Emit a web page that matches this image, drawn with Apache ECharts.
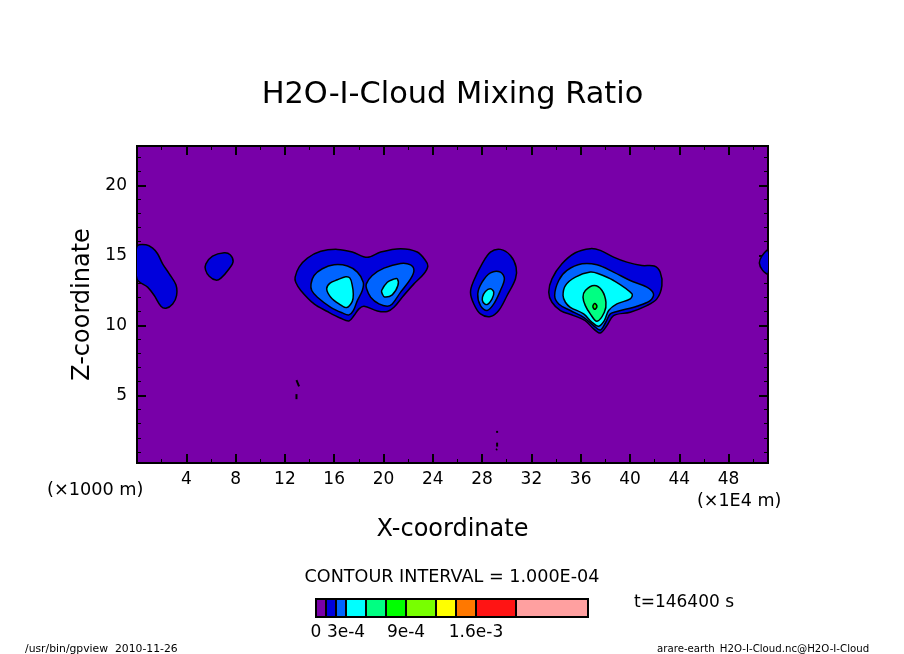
<!DOCTYPE html>
<html><head><meta charset="utf-8">
<style>html,body{margin:0;padding:0;background:#fff}#c{width:904px;height:654px}</style>
<script src="https://cdn.jsdelivr.net/npm/echarts@6/dist/echarts.min.js"></script>
</head><body><div id="c"></div>
<script>
const FONT = 'DejaVu Sans';
const titleText = 'H2O-I-Cloud Mixing Ratio';
const xName = 'X-coordinate';
const zName = 'Z-coordinate';
const xMajor = [4,8,12,16,20,24,28,32,36,40,44,48];
const xMinor = [2,6,10,14,18,22,26,30,34,38,42,46,50];
const zMajor = [5,10,15,20];
const zMinor = [1,2,3,4,6,7,8,9,11,12,13,14,16,17,18,19,21,22];
const bandColors = ['#7800a8','#0000dc','#0064ff','#00ffff','#00ff82','#00ff00','#78ff00','#ffff00','#ff7800','#ff1414','#ffa0a0'];
const levels = [0,1e-4,2e-4,3e-4,5e-4,7e-4,9e-4,12e-4,14e-4,16e-4,20e-4,27.2e-4];
const levelTicks = [0,3e-4,9e-4,16e-4];
const levelTickLabels = ['0','3e-4','9e-4','1.6e-3'];

// contour outlines: [x (1E4 m), z (1000 m)]
const blobA1 = [[0,15.64],[.73,15.76],[1.27,15.52],[1.67,15.12],[2.08,14.4],[2.62,13.69],[3.16,12.9],[3.21,12.14],[2.89,11.54],[2.35,11.23],[1.94,11.38],[1.4,12.14],[.86,12.74],[0,13.33]];
const blobB1 = [[5.59,14.4],[6.13,14.95],[7.08,15.19],[7.56,15.05],[7.8,14.57],[7.48,14.05],[6.81,13.38],[6.4,13.24],[5.86,13.52],[5.56,13.97]];
const blobC1 = [[12.83,13.45],[13.15,14.17],[13.83,14.81],[14.91,15.29],[16.26,15.43],[17.47,15.24],[18.69,14.86],[19.77,15.24],[21.39,15.48],[22.74,15.24],[23.41,14.64],[23.6,14.24],[23.28,13.69],[22.47,12.97],[21.52,12.02],[20.85,11.3],[20.31,11],[19.5,11.04],[18.42,11.38],[18.01,11.19],[17.61,10.71],[17.2,10.33],[16.53,10.52],[15.45,11],[14.37,11.54],[13.29,12.5],[12.88,13.09]];
const blobC2a = [[14.12,12.97],[14.37,13.57],[15.04,14.05],[15.99,14.33],[17.07,14.24],[17.88,13.81],[18.36,13.09],[18.28,12.5],[17.88,11.78],[17.55,11.07],[17.2,10.76],[16.66,10.9],[15.72,11.3],[14.64,12.02],[14.18,12.5]];
const blobC2b = [[18.61,12.97],[19.09,13.57],[20.04,14.09],[21.39,14.43],[22.2,14.33],[22.47,13.93],[22.2,13.33],[21.39,12.38],[20.71,11.54],[20.31,11.38],[19.63,11.54],[18.96,12.02],[18.63,12.62]];
const blobC3a = [[15.39,12.62],[15.66,13.02],[16.26,13.26],[16.93,13.47],[17.28,13.38],[17.47,12.85],[17.55,12.26],[17.47,11.72],[17.01,11.28],[16.39,11.54],[15.72,12.02]];
const blobC3b = [[19.85,12.5],[20.31,13.09],[20.8,13.3],[21.12,13.33],[21.17,12.85],[20.71,12.19],[20.09,12.04],[19.9,12.26]];
const blobD1 = [[27.06,12.38],[27.33,13.21],[28,14.4],[28.68,15.24],[29.49,15.43],[30.3,15],[30.76,14.17],[30.71,13.33],[30.03,12.14],[29.35,11.07],[28.68,10.64],[27.87,10.83],[27.33,11.54]];
const blobD2 = [[27.65,12.26],[28,13.09],[28.68,13.76],[29.49,13.81],[29.81,13.33],[29.49,12.5],[28.95,11.54],[28.41,11.07],[27.87,11.42]];
const blobD3 = [[28.03,12.02],[28.27,12.43],[28.68,12.62],[28.95,12.38],[28.81,11.9],[28.41,11.5],[28.08,11.66]];
const blobE1 = [[33.41,12.38],[33.67,13.33],[34.48,14.4],[35.57,15.19],[36.78,15.48],[37.59,15.36],[38.67,14.88],[39.75,14.52],[40.97,14.28],[41.97,14.24],[42.45,13.81],[42.59,12.85],[42.18,11.9],[41.37,11.42],[40.02,10.95],[38.67,10.71],[38.13,10],[37.59,9.47],[37.05,9.76],[36.37,10.35],[35.43,10.71],[34.36,11.07],[33.67,11.66]];
const blobE2 = [[33.89,12.14],[34.22,13.21],[34.89,13.93],[36.11,14.4],[37.32,14.33],[38.67,13.81],[40.02,13.21],[41.37,12.74],[41.91,12.26],[41.64,11.78],[40.56,11.38],[38.94,11],[38.4,10.83],[38,10.18],[37.59,9.68],[37.05,10],[36.24,10.59],[35.16,11.07],[34.22,11.54]];
const blobE3 = [[34.57,12.14],[34.76,12.85],[35.57,13.45],[36.78,13.81],[37.45,13.69],[38.67,13.21],[40.16,12.26],[40.02,11.9],[38.94,11.54],[38.27,11.07],[37.92,10.35],[37.46,9.95],[36.92,10.23],[36.24,10.83],[35.16,11.3],[34.76,11.66]];
const blobE4 = [[36.19,12.02],[36.38,12.5],[37.1,12.85],[37.73,12.5],[38.05,11.66],[37.92,10.95],[37.32,10.3],[36.78,10.83],[36.38,11.42]];
const blobE5 = [[36.99,11.38],[37.15,11.57],[37.32,11.38],[37.21,11.19],[37.08,11.19]];
const blobF1 = [[51.2,15.36],[50.7,14.95],[50.5,14.45],[50.75,13.95],[51.2,13.7]];
const contours = [
  [1,blobA1],[1,blobB1],[1,blobC1],[2,blobC2a],[2,blobC2b],[3,blobC3a],[3,blobC3b],
  [1,blobD1],[2,blobD2],[3,blobD3],[1,blobE1],[2,blobE2],[3,blobE3],[4,blobE4],[5,blobE5],[1,blobF1]
];
const specks = [
  [[12.94,6.11],[13.15,5.66]],[[12.94,5.11],[12.94,4.75]],
  [[29.22,2.49],[29.22,2.35]],[[29.22,1.65],[29.22,1.37]],[[29.14,1.13],[29.22,1.2]]
];

const X0 = 0, X1 = 51.2, Z0 = 0.2, Z1 = 22.8;
const off = {show:false};
function xA(pos, vals, len, width, labels){
  return {type:'value',gridIndex:0,position:pos,min:X0,max:X1,splitLine:off,
    axisLine:{show:true,onZero:false,lineStyle:{color:'#000',width:2}},
    axisTick:{show:true,inside:true,length:len,customValues:vals,lineStyle:{color:'#000',width:width}},
    axisLabel:labels?{show:true,customValues:vals,fontFamily:FONT,fontSize:17,color:'#000',margin:8}:off};
}
function zA(pos, vals, len, width, labels){
  return {type:'value',gridIndex:0,position:pos,min:Z0,max:Z1,splitLine:off,
    axisLine:{show:true,onZero:false,lineStyle:{color:'#000',width:2}},
    axisTick:{show:true,inside:true,length:len,customValues:vals,lineStyle:{color:'#000',width:width}},
    axisLabel:labels?{show:true,customValues:vals,fontFamily:FONT,fontSize:17,color:'#000',margin:10}:off};
}
const xBottom = Object.assign(xA('bottom',xMajor,9,2,true),{name:xName,nameLocation:'middle',nameGap:55,nameTextStyle:{fontFamily:FONT,fontSize:24,color:'#000'}});
const zLeft = Object.assign(zA('left',zMajor,9,2,true),{name:zName,nameLocation:'middle',nameGap:40,nameTextStyle:{fontFamily:FONT,fontSize:24,color:'#000'}});

function text(t,x,y,size,align){
  return {type:'text',x:x,y:y,silent:true,style:{text:t,fill:'#000',font:size+'px "'+FONT+'"',textAlign:align||'left',textVerticalAlign:'middle'}};
}
const option = {
  animation:false,backgroundColor:'#fff',
  title:{text:titleText,left:447.5,top:75,textAlign:'center',textStyle:{fontFamily:FONT,fontSize:30.4,fontWeight:'normal',color:'#000'}},
  grid:[
    {left:137,top:146,width:631,height:317,show:true,backgroundColor:bandColors[0],borderWidth:0,containLabel:false},
    {left:316,top:599,width:272,height:18,show:false,containLabel:false}
  ],
  xAxis:[xBottom,xA('bottom',xMinor,4,1,false),xA('top',xMajor,9,2,false),xA('top',xMinor,4,1,false),
    {type:'value',gridIndex:1,min:0,max:27.2e-4,position:'bottom',splitLine:off,axisLine:off,axisTick:off,
     axisLabel:{show:true,customValues:levelTicks,margin:7,fontFamily:FONT,fontSize:17,color:'#000',hideOverlap:false,
       formatter:(v,i)=>levelTickLabels[levelTicks.findIndex(t=>Math.abs(t-v)<1e-6)]}}],
  yAxis:[zLeft,zA('left',zMinor,4,1,false),zA('right',zMajor,9,2,false),zA('right',zMinor,4,1,false),
    {type:'value',gridIndex:1,min:0,max:1,splitLine:off,axisLine:off,axisTick:off,axisLabel:off}],
  series:[
    {type:'custom',xAxisIndex:0,yAxisIndex:0,clip:true,silent:true,
     data:contours.map((c,i)=>[i]),encode:{x:[],y:[]},
     renderItem:(p,api)=>{
       const c = contours[p.dataIndex];
       return {type:'polygon',shape:{points:c[1].map(q=>api.coord(q)),smooth:0.35},
         style:{fill:bandColors[c[0]],stroke:'#000',lineWidth:1.5}};
     }},
    {type:'custom',xAxisIndex:0,yAxisIndex:0,clip:true,silent:true,
     data:specks.map((c,i)=>[i]),encode:{x:[],y:[]},
     renderItem:(p,api)=>({type:'polyline',shape:{points:specks[p.dataIndex].map(q=>api.coord(q))},
         style:{fill:null,stroke:'#000',lineWidth:2}})},
    {type:'custom',xAxisIndex:4,yAxisIndex:4,clip:false,silent:true,
     data:bandColors.map((c,i)=>[levels[i],levels[i+1]]),encode:{x:[0,1]},
     renderItem:(p,api)=>{
       const a = api.coord([api.value(0),0]), b = api.coord([api.value(1),1]);
       return {type:'rect',shape:{x:a[0],y:b[1],width:b[0]-a[0],height:a[1]-b[1]},
         style:{fill:bandColors[p.dataIndex],stroke:'#000',lineWidth:2}};
     }}
  ],
  graphic:[
    text('(×1000 m)',47,490,17.7),
    text('(×1E4 m)',697,501,17.5),
    text('CONTOUR INTERVAL = 1.000E-04',452,577,17.6,'center'),
    text('t=146400 s',634,603,17),
    text('/usr/bin/gpview  2010-11-26',25,649,10.8),
    text('arare-earth_H2O-I-Cloud.nc@H2O-I-Cloud',657,649,10.2)
  ]
};
echarts.init(document.getElementById('c'),null,{renderer:'canvas'}).setOption(option);
</script></body></html>
